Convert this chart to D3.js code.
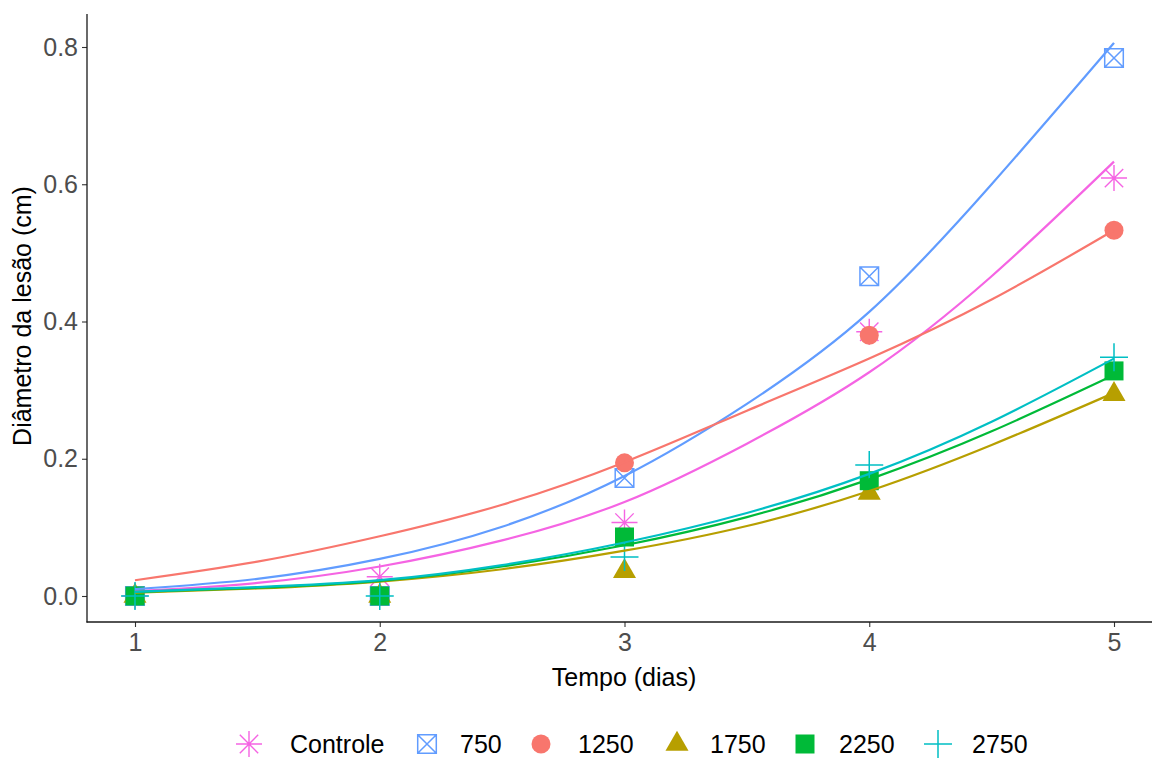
<!DOCTYPE html>
<html><head><meta charset="utf-8">
<script src="https://cdn.jsdelivr.net/npm/d3@7"></script>
<style>
body{margin:0;background:#fff}
svg{display:block;font-family:"Liberation Sans",Arial,sans-serif}
</style>
</head><body>
<svg id="chart" width="1153" height="758"></svg>
<script>
// Lesion diameter over time per treatment dose
const groups = ["Controle", "750", "1250", "1750", "2250", "2750"];
const colors = ["#F564E3", "#619CFF", "#F8766D", "#B79F00", "#00BA38", "#00BFC4"];
const shapes = ["asterisk", "boxcross", "circle", "triangle", "square", "plus"];

// observed means
const days = [1, 2, 3, 4, 5];
const obsControle = [0, 0.028, 0.107, 0.385, 0.609];
const obs750      = [0, 0, 0.172, 0.466, 0.784];
const obs1250     = [0, 0, 0.194, 0.380, 0.533];
const obs1750     = [0, 0, 0.036, 0.150, 0.294];
const obs2250     = [0, 0, 0.086, 0.168, 0.328];
const obs2750     = [0, 0, 0.057, 0.191, 0.348];

// fitted curves
const fitDays = [1, 1.5, 2, 2.5, 3, 3.5, 4, 4.5, 5];
const fitControle = [0.007, 0.019, 0.043, 0.081, 0.137, 0.222, 0.326, 0.466, 0.633];
const fit750      = [0.010, 0.025, 0.054, 0.101, 0.175, 0.280, 0.414, 0.600, 0.806];
const fit1250     = [0.023, 0.050, 0.087, 0.133, 0.195, 0.270, 0.346, 0.432, 0.533];
const fit1750     = [0.005, 0.011, 0.021, 0.039, 0.066, 0.102, 0.153, 0.220, 0.296];
const fit2250     = [0.006, 0.012, 0.022, 0.043, 0.074, 0.115, 0.170, 0.240, 0.322];
const fit2750     = [0.006, 0.013, 0.023, 0.045, 0.078, 0.121, 0.178, 0.254, 0.346];

const xTicks = [1, 2, 3, 4, 5];
const yTicks = [0, 0.2, 0.4, 0.6, 0.8];

const obs = [obsControle, obs750, obs1250, obs1750, obs2250, obs2750];
const fits = [fitControle, fit750, fit1250, fit1750, fit2250, fit2750];

const svg = d3.select("#chart");
const panel = {left: 87, right: 1152, top: 14, bottom: 622};

const x = d3.scaleLinear().domain([1, 5]).range([135, 1114]);
const y = d3.scaleLinear().domain([0, 0.8]).range([596, 47]);

// marker drawing
function drawShape(g, shape, color) {
  const s = 1.5;
  if (shape === "asterisk") {
    const r = 13, d = r * 0.7071;
    g.append("path")
      .attr("d", `M0,${-r}V${r}M${-r},0H${r}M${-d},${-d}L${d},${d}M${d},${-d}L${-d},${d}`)
      .attr("stroke", color).attr("stroke-width", 1.4).attr("fill", "none");
  } else if (shape === "boxcross") {
    const h = 9.3;
    g.append("path")
      .attr("d", `M${-h},${-h}H${h}V${h}H${-h}ZM${-h},${-h}L${h},${h}M${h},${-h}L${-h},${h}`)
      .attr("stroke", color).attr("stroke-width", s).attr("fill", "none");
  } else if (shape === "circle") {
    g.append("circle").attr("r", 9.5).attr("fill", color);
  } else if (shape === "triangle") {
    const r = 13.3, w = r * 0.866;
    g.append("path").attr("d", `M0,${-r}L${w},${r / 2}L${-w},${r / 2}Z`).attr("fill", color);
  } else if (shape === "square") {
    g.append("rect").attr("x", -9.5).attr("y", -9.5).attr("width", 19).attr("height", 19).attr("fill", color);
  } else if (shape === "plus") {
    const r = 14;
    g.append("path").attr("d", `M0,${-r}V${r}M${-r},0H${r}`)
      .attr("stroke", color).attr("stroke-width", s).attr("fill", "none");
  }
}

// points
const pts = svg.append("g");
groups.forEach((gName, i) => {
  days.forEach((d, j) => {
    const g = pts.append("g").attr("transform", `translate(${x(d)},${y(obs[i][j])})`);
    drawShape(g, shapes[i], colors[i]);
  });
});

// fitted curves
const line = d3.line().x(d => x(d[0])).y(d => y(d[1])).curve(d3.curveNatural);
groups.forEach((gName, i) => {
  svg.append("path")
    .datum(fitDays.map((d, j) => [d, fits[i][j]]))
    .attr("d", line)
    .attr("fill", "none")
    .attr("stroke", colors[i])
    .attr("stroke-width", 2.2);
});

// axes
const yAxis = svg.append("g").attr("transform", `translate(${panel.left},0)`)
  .call(d3.axisLeft(y).tickValues(yTicks).tickFormat(d3.format(".1f")).tickSize(5).tickPadding(4));
const xAxis = svg.append("g").attr("transform", `translate(0,${panel.bottom})`)
  .call(d3.axisBottom(x).tickValues(xTicks).tickFormat(d3.format("d")).tickSize(5).tickPadding(6));
[yAxis, xAxis].forEach(a => {
  a.select(".domain").remove();
  a.selectAll(".tick line").attr("stroke", "#333").attr("stroke-width", 1.1);
  a.selectAll(".tick text").attr("fill", "#4D4D4D").attr("font-size", 25)
    .attr("font-family", "'Liberation Sans', Arial, sans-serif");
});
svg.append("line").attr("x1", panel.left).attr("x2", panel.left)
  .attr("y1", panel.top).attr("y2", panel.bottom + 0.5).attr("stroke", "#1a1a1a").attr("stroke-width", 1.3);
svg.append("line").attr("x1", panel.left - 0.5).attr("x2", panel.right)
  .attr("y1", panel.bottom).attr("y2", panel.bottom).attr("stroke", "#1a1a1a").attr("stroke-width", 1.3);

// axis titles
svg.append("text").attr("x", 624).attr("y", 686).attr("text-anchor", "middle")
  .attr("font-size", 25).attr("fill", "#000").text("Tempo (dias)");
svg.append("text").attr("transform", "translate(31,316) rotate(-90)").attr("text-anchor", "middle")
  .attr("font-size", 25).attr("fill", "#000").text("Diâmetro da lesão (cm)");

// legend
const keyX = [249, 427, 541, 677, 805, 938];
const labelX = [290, 460, 578, 710, 839, 972];
const legY = 744;
groups.forEach((gName, i) => {
  const g = svg.append("g").attr("transform", `translate(${keyX[i]},${legY})`);
  drawShape(g, shapes[i], colors[i]);
  svg.append("text").attr("x", labelX[i]).attr("y", legY + 9).attr("font-size", 25)
    .attr("fill", "#000").text(gName);
});
</script>
</body></html>
